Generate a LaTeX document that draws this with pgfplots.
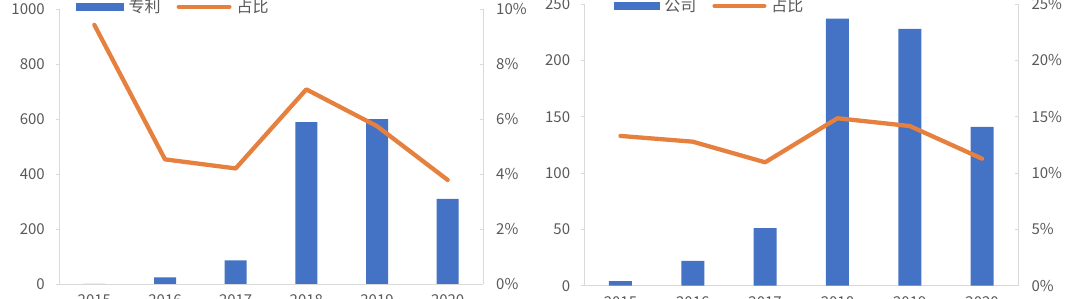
\documentclass[border=0pt]{standalone}
\usepackage{pgfplots}
\pgfplotsset{compat=1.18}
\usepackage{fontspec}
\setmainfont{Noto Sans CJK SC}
\definecolor{barblue}{HTML}{4472C4}
\definecolor{lineor}{HTML}{E6803E}
\definecolor{axgray}{HTML}{D9D9D9}
\definecolor{txtgray}{HTML}{595959}
\pgfplotsset{
  base/.style={
    scale only axis,
    anchor=south west,
    xmin=-0.5, xmax=5.5,
    ymin=0,
    /pgf/number format/assume math mode=true,
    /pgf/number format/1000 sep={},
    tick label style={font=\fontsize{15}{15}\selectfont, text=txtgray},
    axis line style={axgray, line width=0.9pt},
    major tick style={axgray, line width=0.9pt},
    major tick length=3pt,
    clip=false,
  },
  prim/.style={
    base,
    axis x line*=bottom, axis y line*=left,
    tick align=outside,
    xtick={0,...,5}, xticklabels={2015,2016,2017,2018,2019,2020},
    xtick style={draw=none},
    xticklabel style={inner sep=0pt, anchor=north, yshift=-7.5pt},
    yticklabel style={inner sep=0pt, anchor=east, xshift=-11pt},
  },
  sec/.style={
    base,
    axis x line=none, axis y line*=right,
    tick align=inside,
    yticklabel style={inner sep=0pt, anchor=west, xshift=13pt},
    yticklabel={\pgfmathprintnumber{\tick}\%},
    legend columns=2,
    legend style={draw=none, fill=none, inner sep=0pt, anchor=west,
      font=\fontsize{16}{16}\selectfont, text=txtgray,
      nodes={inner sep=0pt},
      /tikz/every odd column/.append style={column sep=5pt},
      /tikz/every even column/.append style={column sep=16pt}},
  },
}
\begin{document}
\begin{tikzpicture}
% ---------- left chart ----------
\begin{axis}[prim, at={(59pt,15pt)}, width=424pt, height=274.5pt,
  ymax=1000, ytick={0,200,...,1000}]
\addplot[ybar, bar width=22pt, fill=barblue, draw=none]
  coordinates {(0,0) (1,24) (2,86) (3,590) (4,601) (5,310)};
\end{axis}
\begin{axis}[sec, at={(59pt,15pt)}, width=424pt, height=274.5pt,
  ymax=10, ytick={0,2,...,10},
  legend style={at={(0.040,1.010)}}]
\addlegendimage{legend image code/.code={\fill[barblue] (0pt,-3.3pt) rectangle (47pt,3.3pt);}}
\addlegendentry{专利}
\addplot[lineor, line width=4.3pt, line join=round, line cap=round,
  legend image code/.code={\draw[lineor, line width=4pt] (0pt,0pt) -- (51pt,0pt);}]
  coordinates {(0,9.44) (1,4.54) (2,4.21) (3,7.09) (4,5.75) (5,3.79)};
\addlegendentry{占比}
\end{axis}
% ---------- right chart ----------
\begin{axis}[prim, at={(584.3pt,13.3pt)}, width=434pt, height=281.7pt,
  ymax=250, ytick={0,50,...,250}]
\addplot[ybar, bar width=23pt, fill=barblue, draw=none]
  coordinates {(0,4) (1,22) (2,51) (3,237) (4,228) (5,141)};
\end{axis}
\begin{axis}[sec, at={(584.3pt,13.3pt)}, width=434pt, height=281.7pt,
  ymax=25, ytick={0,5,...,25},
  legend style={at={(0.068,0.993)}}]
\addlegendimage{legend image code/.code={\fill[barblue] (0pt,-3.3pt) rectangle (45pt,3.3pt);}}
\addlegendentry{公司}
\addplot[lineor, line width=4.3pt, line join=round, line cap=round,
  legend image code/.code={\draw[lineor, line width=4pt] (0pt,0pt) -- (50pt,0pt);}]
  coordinates {(0,13.29) (1,12.78) (2,10.95) (3,14.86) (4,14.17) (5,11.27)};
\addlegendentry{占比}
\end{axis}
\pgfresetboundingbox
\useasboundingbox (0,0) rectangle (1080pt,299pt);
\end{tikzpicture}
\end{document}
